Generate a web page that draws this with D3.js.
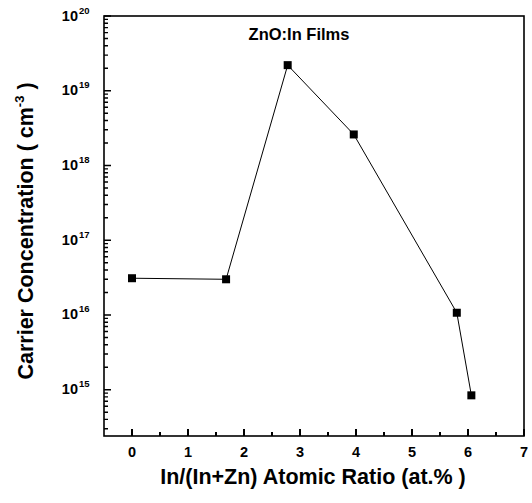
<!DOCTYPE html>
<html>
<head>
<meta charset="utf-8">
<script src="https://cdn.jsdelivr.net/npm/d3@7"></script>
<style>
  body { margin:0; background:#fff; }
  svg text { font-family:"Liberation Sans", Arial, sans-serif; font-weight:bold; fill:#000; }
</style>
</head>
<body>
<svg id="chart" width="532" height="503"></svg>
<script>
// In/(In+Zn) atomic ratio (at.%) and carrier concentration (cm^-3)
var ratios = [0, 1.68, 2.78, 3.96, 5.8, 6.06]
var carriers = [3.1e16, 3.0e16, 2.2e19, 2.6e18, 1.07e16, 8.4e14]
var xTickValues = [0, 1, 2, 3, 4, 5, 6, 7]
var yExponents = [15, 16, 17, 18, 19, 20]

var m = { left:104, right:524, top:16, bottom:436 }
var svg = d3.select('#chart')

var x = d3.scaleLinear().domain([-0.5, 7]).range([m.left, m.right])
var y = d3.scaleLog().domain([2.4e14, 1e20]).range([m.bottom, m.top])

var xMinor = d3.range(0.5, 7, 1)
var yMajor = yExponents.map(function(p) { return Math.pow(10, p) })
var yMinor = []
for (var ex = 14; ex < 20; ex++) for (var k = 2; k <= 9; k++) {
  var mv = k * Math.pow(10, ex)
  if (mv > 2.4e14 && mv < 1e20) yMinor.push(mv)
}

// frame
svg.append('rect')
  .attr('x', m.left).attr('y', m.top)
  .attr('width', m.right - m.left).attr('height', m.bottom - m.top)
  .attr('fill', 'none').attr('stroke', '#000').attr('stroke-width', 1.6)

// inward ticks, drawn as one path per kind
function tickPath(vals, len, horiz) {
  var p = d3.path()
  vals.forEach(function(d) {
    if (horiz) { p.moveTo(x(d), m.bottom); p.lineTo(x(d), m.bottom - len) }
    else { p.moveTo(m.left, y(d)); p.lineTo(m.left + len, y(d)) }
  })
  return p.toString()
}
svg.append('path').attr('d', tickPath(xTickValues, 7, true)).attr('stroke', '#000').attr('stroke-width', 2).attr('fill', 'none')
svg.append('path').attr('d', tickPath(xMinor, 4, true)).attr('stroke', '#000').attr('stroke-width', 2).attr('fill', 'none')
svg.append('path').attr('d', tickPath(yMajor, 7, false)).attr('stroke', '#000').attr('stroke-width', 1.6).attr('fill', 'none')
svg.append('path').attr('d', tickPath(yMinor, 4, false)).attr('stroke', '#000').attr('stroke-width', 1.4).attr('fill', 'none')

// x tick labels
svg.selectAll('text.xl').data(xTickValues).enter().append('text')
  .attr('class', 'xl')
  .attr('x', function(d) { return x(d) })
  .attr('y', 457)
  .attr('text-anchor', 'middle')
  .style('font-size', '14.5px')
  .text(function(d) { return d })

// y tick labels: 10^n
svg.selectAll('text.yl').data(yExponents).enter().append('text')
  .attr('class', 'yl')
  .attr('x', 78)
  .attr('y', function(d) { return y(Math.pow(10, d)) + 4.5 })
  .attr('text-anchor', 'end')
  .style('font-size', '14.5px')
  .text('10')
svg.selectAll('text.ye').data(yExponents).enter().append('text')
  .attr('class', 'ye')
  .attr('x', 79)
  .attr('y', function(d) { return y(Math.pow(10, d)) - 2.5 })
  .style('font-size', '9.5px')
  .text(function(d) { return d })

// line + markers
var line = d3.line().x(function(d, i) { return x(ratios[i]) }).y(function(d) { return y(d) })
svg.append('path').datum(carriers)
  .attr('d', line).attr('fill', 'none').attr('stroke', '#000').attr('stroke-width', 1)
svg.selectAll('rect.pt').data(carriers).enter().append('rect')
  .attr('class', 'pt')
  .attr('x', function(d, i) { return x(ratios[i]) - 4 })
  .attr('y', function(d) { return y(d) - 4 })
  .attr('width', 8).attr('height', 8)
  .attr('fill', '#000')

// title inside plot
svg.append('text').attr('x', 299).attr('y', 40)
  .attr('text-anchor', 'middle').style('font-size', '16.5px')
  .text('ZnO:In Films')

// axis titles
svg.append('text').attr('x', 313).attr('y', 484)
  .attr('text-anchor', 'middle').style('font-size', '21.5px')
  .text('In/(In+Zn) Atomic Ratio (at.% )')

var yt = svg.append('text')
  .attr('transform', 'translate(33,' + 231 + ') rotate(-90)')
  .attr('text-anchor', 'middle').style('font-size', '21.5px')
yt.append('tspan').text('Carrier Concentration ( cm')
yt.append('tspan').attr('dy', -9).style('font-size', '13px').text('-3')
yt.append('tspan').attr('dy', 9).text(' )')
</script>
</body>
</html>
